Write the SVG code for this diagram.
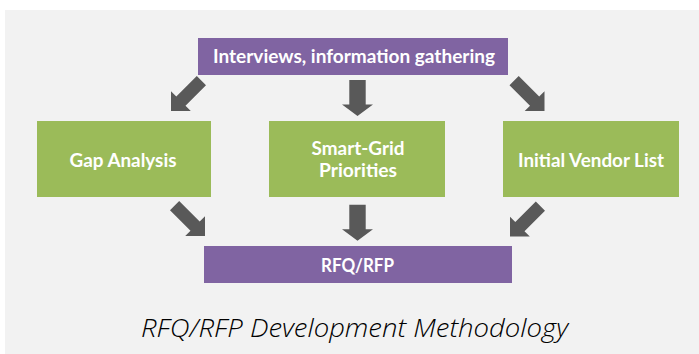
<svg xmlns="http://www.w3.org/2000/svg" xmlns:xlink="http://www.w3.org/1999/xlink" width="699" height="354" viewBox="0 0 699 354">
  <style>
    .bg { fill: #f2f2f2; }
    .purple { fill: #8064a2; }
    .green { fill: #9bbb59; }
    .arrow { fill: #595959; }
    .lbl { font-family: "Lato", "Liberation Sans", sans-serif; font-weight: bold; font-size: 19px; fill: #ffffff; text-anchor: middle; }
    .cap { font-family: "Open Sans", "Liberation Sans", sans-serif; font-style: italic; font-weight: 300; font-size: 25px; fill: #000000; text-anchor: middle; }
  </style>
  <defs>
    <path id="diag" d="M-6.5,-43 L6.5,-43 L6.5,-14 L14,-14 L0,0 L-14,-14 L-6.5,-14 Z"/>
    <path id="down" d="M-8.2,-36 L8.2,-36 L8.2,-11.5 L15.5,-11.5 L0,0 L-15.5,-11.5 L-8.2,-11.5 Z"/>
  </defs>
  <rect class="bg" x="5" y="10" width="694" height="344"/>

  <g id="connectors" class="arrow">
    <use xlink:href="#diag" href="#diag" transform="translate(171,111) rotate(45)"/>
    <use xlink:href="#down" href="#down" transform="translate(357.5,116)"/>
    <use xlink:href="#diag" href="#diag" transform="translate(544.5,111) rotate(-45)"/>
    <use xlink:href="#diag" href="#diag" transform="translate(205,236) rotate(-45)"/>
    <use xlink:href="#down" href="#down" transform="translate(357.5,240.7)"/>
    <use xlink:href="#diag" href="#diag" transform="translate(510,236.5) rotate(45)"/>
  </g>

  <g id="interviews">
    <rect class="purple" x="198" y="38" width="310" height="37"/>
    <text class="lbl" x="354" y="63" textLength="282" lengthAdjust="spacingAndGlyphs">Interviews, information gathering</text>
  </g>

  <g id="gap-analysis">
    <rect class="green" x="37" y="121" width="174" height="76"/>
    <text class="lbl" x="123" y="167" textLength="107" lengthAdjust="spacingAndGlyphs">Gap Analysis</text>
  </g>

  <g id="smart-grid">
    <rect class="green" x="269" y="121" width="176" height="76"/>
    <text class="lbl" x="358" y="155" textLength="93" lengthAdjust="spacingAndGlyphs">Smart-Grid</text>
    <text class="lbl" x="358" y="177" textLength="78" lengthAdjust="spacingAndGlyphs">Priorities</text>
  </g>

  <g id="vendor-list">
    <rect class="green" x="503" y="121" width="176" height="76"/>
    <text class="lbl" x="591" y="167" textLength="146" lengthAdjust="spacingAndGlyphs">Initial Vendor List</text>
  </g>

  <g id="rfq-rfp">
    <rect class="purple" x="204" y="246" width="308" height="37"/>
    <text class="lbl" x="357.5" y="272" textLength="73" lengthAdjust="spacingAndGlyphs">RFQ/RFP</text>
  </g>

  <text class="cap" x="354.5" y="336.5" textLength="427" lengthAdjust="spacingAndGlyphs">RFQ/RFP Development Methodology</text>
</svg>
